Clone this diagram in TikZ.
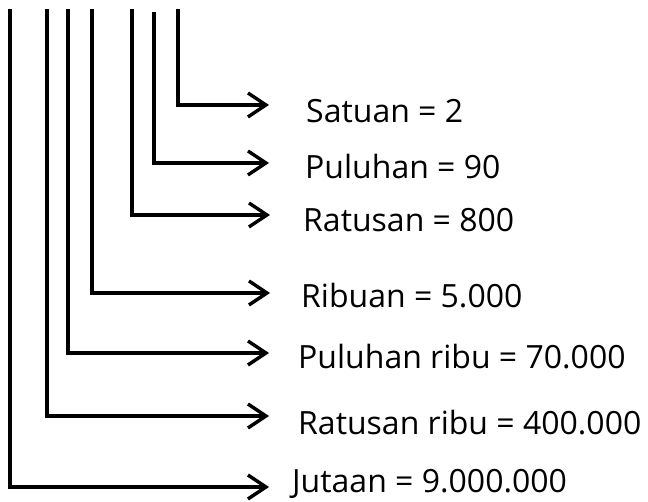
\documentclass[tikz,border=0pt]{standalone}
\usepackage{fontspec}
\setmainfont{Open Sans}
\usetikzlibrary{arrows.meta}
\tikzset{
  conn/.style={line width=3.4pt, line join=miter, -{Straight Barb[length=18pt,width=24pt,line width=3.4pt]}},
  lbl/.style={anchor=base west, inner sep=0pt, font=\fontsize{32}{36}\selectfont}
}
\begin{document}
\begin{tikzpicture}[x=1pt,y=-1pt]
\useasboundingbox (0,0) rectangle (648,502);
% tops of verticals
\coordinate (t1) at (178,9);
\coordinate (t2) at (154,12);
\coordinate (t3) at (132,9);
\coordinate (t4) at (92,9);
\coordinate (t5) at (68,9);
\coordinate (t6) at (47,9);
\coordinate (t7) at (10,9);
% arrow ends
\coordinate (e1) at (269,105);
\coordinate (e2) at (269,163);
\coordinate (e3) at (270,215);
\coordinate (e4) at (270,293);
\coordinate (e5) at (269,353);
\coordinate (e6) at (269,416);
\coordinate (e7) at (269,487);
% labels
\node[lbl] (l1) at (306,123) {Satuan = 2};
\node[lbl] (l2) at (305,179) {Puluhan = 90};
\node[lbl] (l3) at (303,232) {Ratusan = 800};
\node[lbl] (l4) at (301,308) {Ribuan = 5.000};
\node[lbl] (l5) at (298,369) {Puluhan ribu = 70.000};
\node[lbl] (l6) at (298,435) {Ratusan ribu = 400.000};
\node[lbl] (l7) at (292,492) {Jutaan = 9.000.000};
% connectors
\draw[conn] (t1) |- (e1);
\draw[conn] (t2) |- (e2);
\draw[conn] (t3) |- (e3);
\draw[conn] (t4) |- (e4);
\draw[conn] (t5) |- (e5);
\draw[conn] (t6) |- (e6);
\draw[conn] (t7) |- (e7);
\end{tikzpicture}
\end{document}
